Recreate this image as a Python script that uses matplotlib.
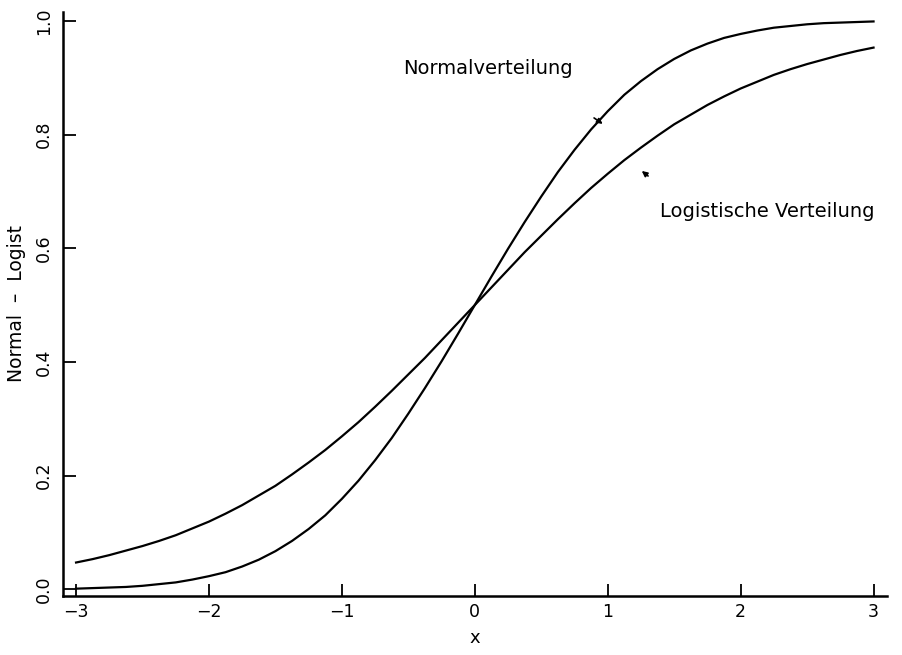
import matplotlib
matplotlib.use("Agg")
import matplotlib.pyplot as plt

# values
x_vals = [-3.0, -2.875, -2.75, -2.625, -2.5, -2.375, -2.25, -2.125, -2.0, -1.875, -1.75, -1.625,
          -1.5, -1.375, -1.25, -1.125, -1.0, -0.875, -0.75, -0.625, -0.5, -0.375, -0.25, -0.125,
          0.0, 0.125, 0.25, 0.375, 0.5, 0.625, 0.75, 0.875, 1.0, 1.125, 1.25, 1.375,
          1.5, 1.625, 1.75, 1.875, 2.0, 2.125, 2.25, 2.375, 2.5, 2.625, 2.75, 2.875, 3.0]
normal_vals = [0.001, 0.002, 0.003, 0.004, 0.006, 0.009, 0.012, 0.017, 0.023, 0.030, 0.040, 0.052,
               0.067, 0.085, 0.106, 0.130, 0.159, 0.191, 0.227, 0.266, 0.309, 0.354, 0.401, 0.450,
               0.500, 0.550, 0.599, 0.646, 0.691, 0.734, 0.773, 0.809, 0.841, 0.870, 0.894, 0.915,
               0.933, 0.948, 0.960, 0.970, 0.977, 0.983, 0.988, 0.991, 0.994, 0.996, 0.997, 0.998, 0.999]
logist_vals = [0.047, 0.053, 0.060, 0.068, 0.076, 0.085, 0.095, 0.107, 0.119, 0.133, 0.148, 0.165,
               0.182, 0.202, 0.223, 0.245, 0.269, 0.294, 0.321, 0.349, 0.378, 0.407, 0.438, 0.469,
               0.500, 0.531, 0.562, 0.593, 0.622, 0.651, 0.679, 0.706, 0.731, 0.755, 0.777, 0.798,
               0.818, 0.835, 0.852, 0.867, 0.881, 0.893, 0.905, 0.915, 0.924, 0.932, 0.940, 0.947, 0.953]
x_ticks = [-3, -2, -1, 0, 1, 2, 3]
y_ticks = [0.0, 0.2, 0.4, 0.6, 0.8, 1.0]

plt.rcParams['font.family'] = ['DejaVu Sans']

fig = plt.figure(figsize=(9.03, 6.55), dpi=100)
ax = fig.add_axes([0.0698, 0.090, 0.912, 0.892])

ax.plot(x_vals, normal_vals, color='black', lw=1.6)
ax.plot(x_vals, logist_vals, color='black', lw=1.6)

ax.set_xlim(-3.098, 3.098)
ax.set_ylim(-0.012, 1.016)

for s in ['top', 'right']:
  ax.spines[s].set_visible(False)
for s in ['left', 'bottom']:
  ax.spines[s].set_linewidth(1.8)

ax.set_xticks(x_ticks)
ax.set_xticklabels([str(t).replace('-', '\u2212') for t in x_ticks])
ax.set_yticks(y_ticks)
ax.set_yticklabels([f'{t:.1f}' for t in y_ticks], rotation=90, va='center')
ax.tick_params(direction='in', length=9, width=1.3, labelsize=12.5, pad=5)
ax.tick_params(axis='y', pad=7)

ax.set_xlabel('x', fontsize=13, labelpad=6)
ax.set_ylabel('Normal  \u2013  Logist', fontsize=13.5, labelpad=7)

# labels with their small arrows
ax.text(-0.54, 0.917, 'Normalverteilung', fontsize=14, va='center', ha='left')
ax.annotate('', xy=(0.98, 0.816), xytext=(0.88, 0.832),
            arrowprops=dict(arrowstyle='-|>', color='black', lw=1.2, mutation_scale=8))
ax.text(1.39, 0.664, 'Logistische Verteilung', fontsize=14, va='center', ha='left')
ax.annotate('', xy=(1.24, 0.739), xytext=(1.32, 0.724),
            arrowprops=dict(arrowstyle='-|>', color='black', lw=1.2, mutation_scale=8))

fig.savefig('out.png', dpi=100)
